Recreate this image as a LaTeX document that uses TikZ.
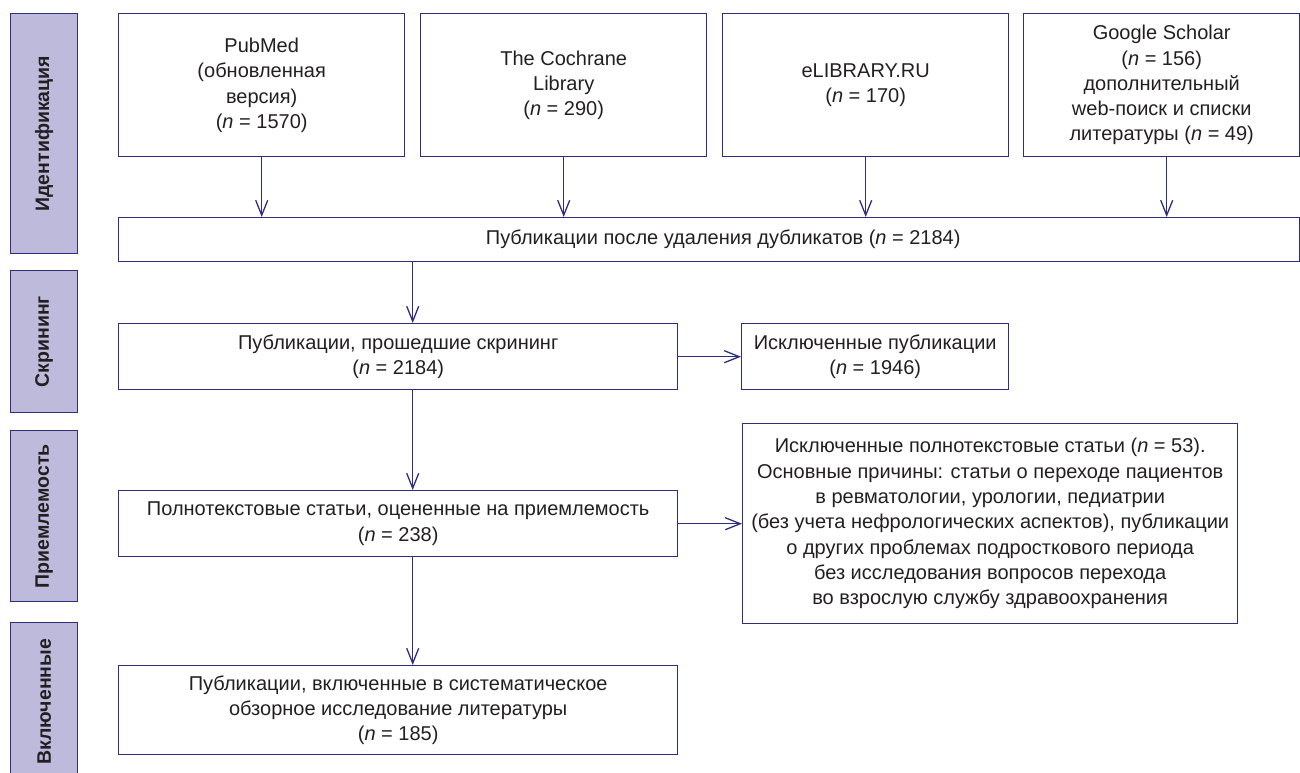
\documentclass[tikz,border=0pt]{standalone}
\usepackage{fontspec}
\setmainfont{Liberation Sans}
\usetikzlibrary{arrows.meta}
\definecolor{navy}{HTML}{2E2D7F}
\definecolor{lav}{HTML}{BDBADB}
\definecolor{txt}{HTML}{231F20}
\begin{document}
\begin{tikzpicture}[x=1pt,y=-1pt,
  box/.style={draw=navy, line width=1.4pt, anchor=north west, inner sep=0pt, align=center, text=txt, font=\fontsize{20}{25.3}\selectfont},
  side/.style={draw=navy, fill=lav, line width=1.4pt, anchor=north west, inner sep=0pt},
  sidetext/.style={rotate=90, text=txt, font=\fontsize{19.5}{22}\selectfont\bfseries},
  arr/.style={draw=navy, line width=1.3pt, -{Straight Barb[length=15pt,width=12pt,line width=1.3pt]}}]
\useasboundingbox (0,0) rectangle (1300,773);

% side stage labels
\node[side, minimum width=67pt, minimum height=240pt] (s1) at (10,13) {};
\node[sidetext] (s1t) at (s1.center) {Идентификация};
\node[side, minimum width=67pt, minimum height=142pt] (s2) at (10,270) {};
\node[sidetext] (s2t) at (s2.center) {Скрининг};
\node[side, minimum width=67pt, minimum height=171pt] (s3) at (10,430) {};
\node[sidetext] (s3t) at (s3.center) {Приемлемость};
\node[side, minimum width=67pt, minimum height=152pt] (s4) at (10,622) {};
\node[sidetext] (s4t) at ([yshift=-3pt]s4.center) {Включенные};

% identification boxes
\node[box, minimum width=286pt, minimum height=143pt] (pub) at (118,13)
  {PubMed\\(обновленная\\версия)\\(\textit{n} = 1570)};
\node[box, minimum width=286pt, minimum height=143pt] (coch) at (420,13)
  {The Cochrane\\Library\\(\textit{n} = 290)};
\node[box, minimum width=286pt, minimum height=143pt] (elib) at (722,13)
  {eLIBRARY.RU\\(\textit{n} = 170)};
\node[box, minimum width=276pt, minimum height=143pt] (goog) at (1023,13)
  {Google Scholar\\(\textit{n} = 156)\\дополнительный\\web-поиск и списки\\литературы (\textit{n} = 49)};

\node[box, minimum width=1181pt, minimum height=44pt] (dd) at (118,217)
  {\hspace*{28pt}Публикации после удаления дубликатов (\textit{n} = 2184)};

% screening
\node[box, minimum width=559pt, minimum height=66pt] (scr) at (118,323)
  {Публикации, прошедшие скрининг\\(\textit{n} = 2184)};
\node[box, minimum width=267pt, minimum height=66pt] (ex1) at (741,323)
  {Исключенные публикации\\(\textit{n} = 1946)};

% eligibility
\node[box, minimum width=559pt, minimum height=66pt] (elig) at (118,490)
  {Полнотекстовые статьи, оцененные на приемлемость\\(\textit{n} = 238)};
\node[box, minimum width=495pt, minimum height=200pt] (ex2) at (742,423)
  {Исключенные полнотекстовые статьи (\textit{n} = 53).\\
   Основные причины: статьи о переходе пациентов\\
   в ревматологии, урологии, педиатрии\\
   (без учета нефрологических аспектов), публикации\\
   о других проблемах подросткового периода\\
   без исследования вопросов перехода\\
   во взрослую службу здравоохранения};

% included
\node[box, minimum width=559pt, minimum height=89pt] (inc) at (118,665)
  {Публикации, включенные в систематическое\\обзорное исследование литературы\\(\textit{n} = 185)};

% connectors
\draw[arr] (pub.south) -- (pub.south |- dd.north);
\draw[arr] (coch.south) -- (coch.south |- dd.north);
\draw[arr] (elib.south) -- (elib.south |- dd.north);
\coordinate (gx) at ([xshift=5pt]goog.south);
\draw[arr] (gx) -- (gx |- dd.north);

\coordinate (ax) at ([xshift=14.5pt]scr.north);
\draw[arr] (ax |- dd.south) -- (ax);
\draw[arr] (ax |- scr.south) -- (ax |- elig.north);
\draw[arr] (ax |- elig.south) -- (ax |- inc.north);
\draw[arr] (scr.east) -- (ex1.west);
\draw[arr] (elig.east) -- (elig.east -| ex2.west);
\end{tikzpicture}
\end{document}
